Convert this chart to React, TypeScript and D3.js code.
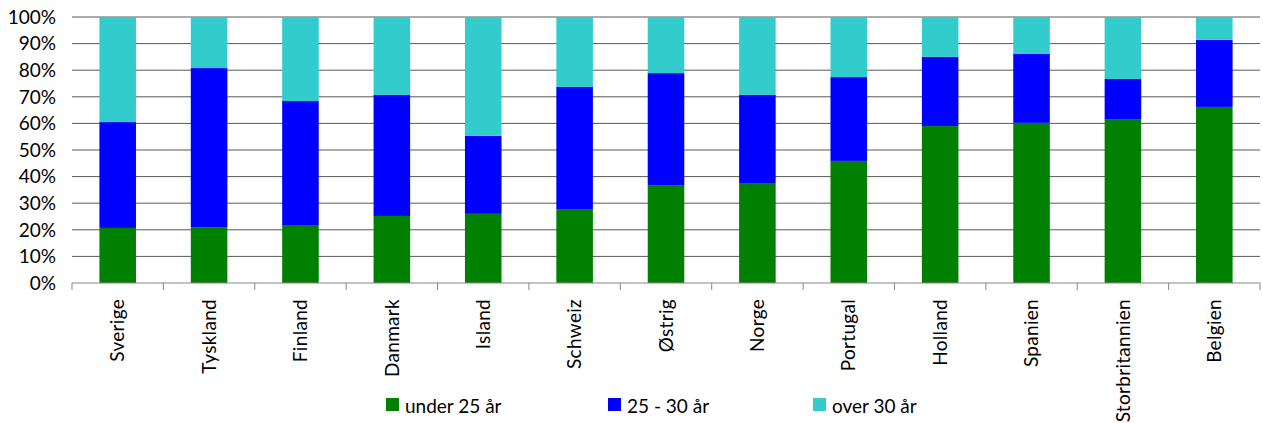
import React from "react";
import * as d3 from "d3";

const countries = ["Sverige", "Tyskland", "Finland", "Danmark", "Island", "Schweiz", "Østrig", "Norge", "Portugal", "Holland", "Spanien", "Storbritannien", "Belgien"];
const under25 = [20.7, 21.0, 21.8, 25.2, 26.0, 27.8, 36.6, 37.6, 45.9, 59.0, 60.2, 61.4, 66.2];
const from25to30 = [39.8, 59.8, 46.6, 45.5, 29.3, 45.9, 42.3, 33.1, 31.5, 26.0, 25.9, 15.3, 25.2];
const over30 = [39.5, 19.2, 31.6, 29.3, 44.7, 26.3, 21.1, 29.3, 22.6, 15.0, 13.9, 23.3, 8.6];
const seriesNames = ["under 25 år", "25 - 30 år", "over 30 år"];
const seriesColors = ["#008000", "#0000FF", "#33CCCC"];
const yTicks = [0, 0.1, 0.2, 0.3, 0.4, 0.5, 0.6, 0.7, 0.8, 0.9, 1.0];

const W = 1263;
const H = 423;
const left = 72;
const right = 1260;
const top = 17;
const bottom = 283;
const font = "Lato, Carlito, Calibri, sans-serif";

export default function App() {
  const rows = countries.map((c, i) => ({
    country: c,
    s0: under25[i],
    s1: from25to30[i],
    s2: over30[i],
  }));
  const stack = d3.stack<any>().keys(["s0", "s1", "s2"]).offset(d3.stackOffsetExpand);
  const layers = stack(rows);

  const x = d3.scaleBand<string>().domain(countries).range([left, right]).paddingInner(0.6).paddingOuter(0.3);
  const y = d3.scaleLinear().domain([0, 1]).range([bottom, top]);
  const step = x.step();
  const fmt = d3.format(".0%");

  const legendX = [386, 608, 813];

  return (
    <div style={{ position: "absolute", left: 0, top: 0 }}>
      <svg width={W} height={H} style={{ display: "block", background: "#fff" }}>
        {yTicks.map((t) => (
          <g key={t}>
            {t > 0 && (
              <line x1={left} x2={right} y1={y(t)} y2={y(t)} stroke="#595959" strokeWidth={1} />
            )}
            <text x={56} y={y(t)} dy="0.36em" textAnchor="end" fontFamily={font} fontSize={19} fill="#000">
              {fmt(t)}
            </text>
          </g>
        ))}
        {layers.map((layer, li) => (
          <g key={li} fill={seriesColors[li]}>
            {layer.map((d, i) => (
              <rect
                key={i}
                x={x(countries[i])}
                width={x.bandwidth()}
                y={y(d[1])}
                height={y(d[0]) - y(d[1])}
              />
            ))}
          </g>
        ))}
        <line x1={left} x2={right} y1={bottom} y2={bottom} stroke="#868686" strokeWidth={1} />
        {d3.range(countries.length + 1).map((i) => (
          <line
            key={i}
            x1={left + i * step}
            x2={left + i * step}
            y1={bottom}
            y2={bottom + 7}
            stroke="#868686"
            strokeWidth={1}
          />
        ))}
        {countries.map((c) => {
          const cx = (x(c) as number) + x.bandwidth() / 2;
          return (
            <text
              key={c}
              transform={`translate(${cx},299) rotate(-90)`}
              dy="0.35em"
              textAnchor="end"
              fontFamily={font}
              fontSize={19}
              letterSpacing={0.3}
              fill="#000"
            >
              {c}
            </text>
          );
        })}
        {seriesNames.map((n, i) => (
          <g key={n}>
            <rect x={legendX[i]} y={398} width={13} height={13} fill={seriesColors[i]} />
            <text x={legendX[i] + 19} y={413} fontFamily={font} fontSize={19} fill="#000">
              {n}
            </text>
          </g>
        ))}
      </svg>
    </div>
  );
}
